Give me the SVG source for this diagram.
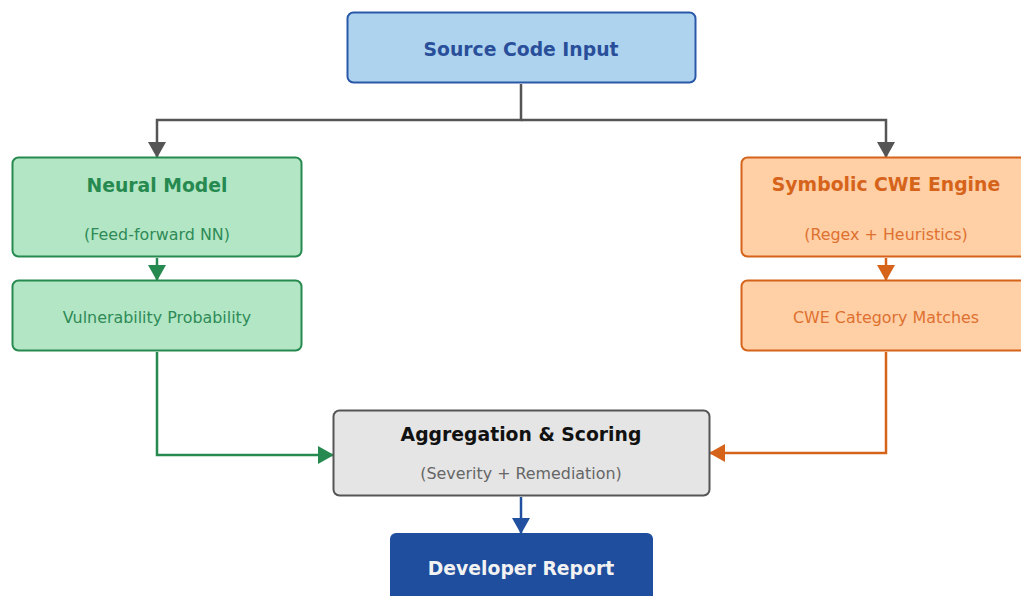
<svg xmlns="http://www.w3.org/2000/svg" width="1021" height="596" viewBox="0 0 1021 596">
<defs>
<style>
text{font-family:"DejaVu Sans","Liberation Sans",sans-serif;text-anchor:middle;dominant-baseline:central}
.t{font-weight:bold;font-size:18.8px}
.s{font-size:15.9px}
.c{fill:none;stroke-width:2.5}
</style>
<marker id="ag" viewBox="0 0 16 18" refX="15" refY="9" markerWidth="16" markerHeight="18" orient="auto" markerUnits="userSpaceOnUse"><path d="M0,0L16,9L0,18z" fill="#555"/></marker>
<marker id="ae" viewBox="0 0 16 18" refX="15" refY="9" markerWidth="16" markerHeight="18" orient="auto" markerUnits="userSpaceOnUse"><path d="M0,0L16,9L0,18z" fill="#268a50"/></marker>
<marker id="ao" viewBox="0 0 16 18" refX="15" refY="9" markerWidth="16" markerHeight="18" orient="auto" markerUnits="userSpaceOnUse"><path d="M0,0L16,9L0,18z" fill="#d6631a"/></marker>
<marker id="ab" viewBox="0 0 16 18" refX="15" refY="9" markerWidth="16" markerHeight="18" orient="auto" markerUnits="userSpaceOnUse"><path d="M0,0L16,9L0,18z" fill="#2250a0"/></marker>
</defs>
<rect width="1021" height="596" fill="#fff"/>
<g id="connectors">
<path class="c" stroke="#555" d="M521,84V120H157V157" marker-end="url(#ag)"/>
<path class="c" stroke="#555" d="M521,120H886V157" marker-end="url(#ag)"/>
<path class="c" stroke="#268a50" d="M157,258V280" marker-end="url(#ae)"/>
<path class="c" stroke="#d6631a" d="M886,258V280" marker-end="url(#ao)"/>
<path class="c" stroke="#268a50" d="M157,352V455H333" marker-end="url(#ae)"/>
<path class="c" stroke="#d6631a" d="M886,352V453H710" marker-end="url(#ao)"/>
<path class="c" stroke="#2250a0" d="M521,497V533" marker-end="url(#ab)"/>
</g>
<g id="source">
<rect x="347.5" y="12.5" width="348" height="70" rx="6" fill="#aed3ef" stroke="#2a58a8" stroke-width="2"/>
<text class="t" x="521" y="49" fill="#2a4f9a">Source Code Input</text>
</g>
<g id="neural">
<rect x="12.5" y="157.5" width="289" height="99" rx="6" fill="#b3e6c4" stroke="#268a50" stroke-width="2"/>
<text class="t" x="157" y="185" fill="#268a50">Neural Model</text>
<text class="s" x="157" y="234" fill="#2e8b57">(Feed-forward NN)</text>
</g>
<g id="vuln">
<rect x="12.5" y="280.5" width="289" height="70" rx="6" fill="#b3e6c4" stroke="#268a50" stroke-width="2"/>
<text class="s" x="157" y="317" fill="#2e8b57">Vulnerability Probability</text>
</g>
<g id="symbolic">
<rect x="741.5" y="157.5" width="290" height="99" rx="6" fill="#ffcfa6" stroke="#d6631a" stroke-width="2"/>
<text class="t" x="886" y="184" fill="#d6631a">Symbolic CWE Engine</text>
<text class="s" x="886" y="234" fill="#de7130">(Regex + Heuristics)</text>
</g>
<g id="cwe">
<rect x="741.5" y="280.5" width="290" height="70" rx="6" fill="#ffcfa6" stroke="#d6631a" stroke-width="2"/>
<text class="s" x="886" y="317" fill="#de7130">CWE Category Matches</text>
</g>
<g id="aggregation">
<rect x="333.5" y="410.5" width="376" height="85" rx="6" fill="#e5e5e5" stroke="#555" stroke-width="2"/>
<text class="t" x="521" y="434" fill="#111">Aggregation &amp; Scoring</text>
<text class="s" x="521" y="473" fill="#666">(Severity + Remediation)</text>
</g>
<g id="report">
<rect x="390" y="533" width="263" height="80" rx="6" fill="#1f4e9e"/>
<text class="t" x="521" y="568" fill="#f2f2f2">Developer Report</text>
</g>
</svg>
